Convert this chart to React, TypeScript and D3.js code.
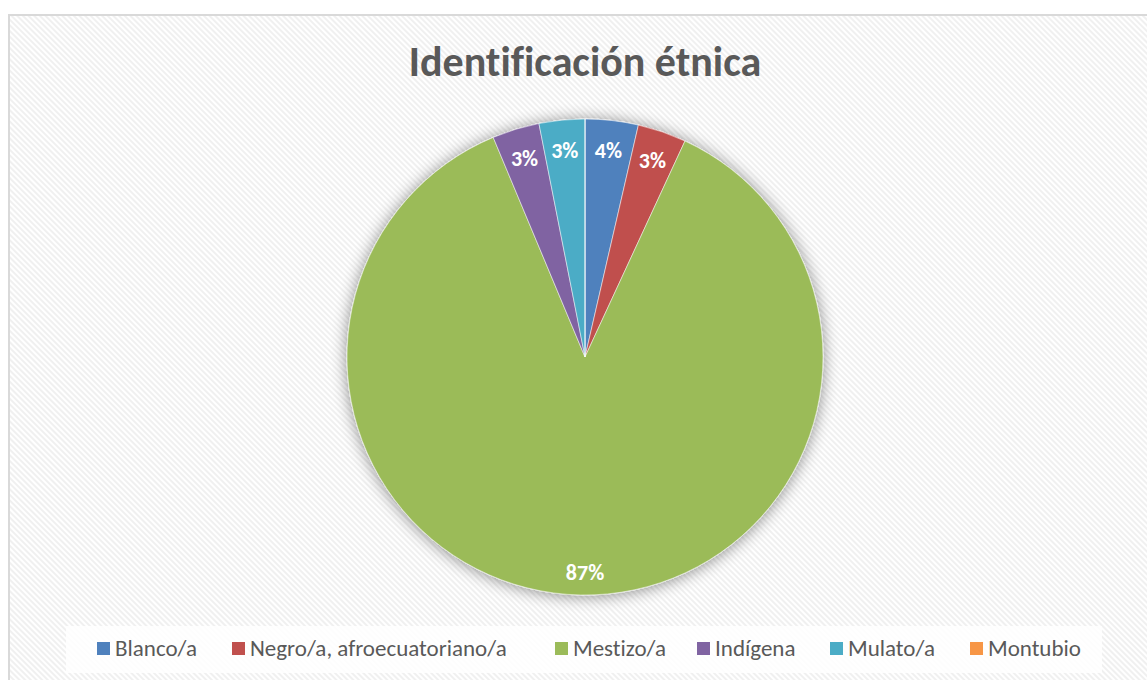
import React from "react";
import * as d3 from "d3";

const categories = ["Blanco/a", "Negro/a, afroecuatoriano/a", "Mestizo/a", "Indígena", "Mulato/a", "Montubio"];
const shares = [3.6, 3.3, 86.8, 3.2, 3.1, 0];
const labels = ["4%", "3%", "87%", "3%", "3%", "0%"];
const colors = ["#4F81BD", "#C0504D", "#9BBB59", "#8064A2", "#4BACC6", "#F79646"];

const W = 1147;
const H = 680;
const cx = 585;
const cy = 357;
const R = 238;
const font = "Carlito, Calibri, 'Open Sans', sans-serif";

export default function App() {
  const pie = d3.pie<number>().sort(null).value(d => d);
  const arcs = pie(shares);
  const arc = d3.arc<d3.PieArcDatum<number>>().innerRadius(0).outerRadius(R);
  const labelArc = d3.arc<d3.PieArcDatum<number>>().innerRadius(208).outerRadius(208);

  // legend x positions
  const legendX = [97, 232, 555, 697, 830, 970];

  return (
    <svg width={W} height={H} style={{ position: "absolute", left: 0, top: 0, display: "block", fontVariantLigatures: "none" }}>
      <defs>
        <pattern id="hatch" width="4" height="4" patternUnits="userSpaceOnUse" patternTransform="rotate(-45)">
          <rect width="4" height="4" fill="#ffffff" />
          <rect width="2" height="4" fill="#f0f0f0" />
        </pattern>
        <filter id="shadow" x="-20%" y="-20%" width="140%" height="140%">
          <feGaussianBlur in="SourceAlpha" stdDeviation="8" />
          <feOffset dx="0" dy="1" />
          <feComponentTransfer>
            <feFuncA type="linear" slope="0.45" />
          </feComponentTransfer>
          <feMerge>
            <feMergeNode />
            <feMergeNode in="SourceGraphic" />
          </feMerge>
        </filter>
      </defs>
      <rect x={0} y={0} width={W} height={H} fill="#ffffff" />
      <rect x={9} y={15} width={W} height={H} fill="url(#hatch)" stroke="#d9d9d9" strokeWidth={2} />

      <text x={cx} y={76} textAnchor="middle" fontFamily={font} fontWeight="bold" fontSize={42} fill="#595959">
        Identificación étnica
      </text>

      <g transform={`translate(${cx},${cy})`}>
        <g filter="url(#shadow)">
          {arcs.map((a, i) => (
            <path key={i} d={arc(a) || ""} fill={colors[i]} stroke="#ffffff" strokeWidth={0.5} />
          ))}
        </g>
        {arcs.map((a, i) => {
          if (a.value === 0) return null;
          const [lx, ly] = i === 2 ? [0, R - 23] : labelArc.centroid(a);
          return (
            <text key={i} x={lx} y={ly} dy="0.35em" textAnchor="middle" fontFamily={font}
              fontWeight="bold" fontSize={22} fill="#ffffff">
              {labels[i]}
            </text>
          );
        })}
      </g>

      <rect x={66} y={626} width={1036} height={47} fill="#ffffff" fillOpacity={0.85} />
      {categories.map((c, i) => (
        <g key={c}>
          <rect x={legendX[i]} y={642} width={13} height={13} fill={colors[i]} />
          <text x={legendX[i] + 18} y={656} fontFamily={font} fontSize={23} fill="#595959">
            {c}
          </text>
        </g>
      ))}
    </svg>
  );
}
